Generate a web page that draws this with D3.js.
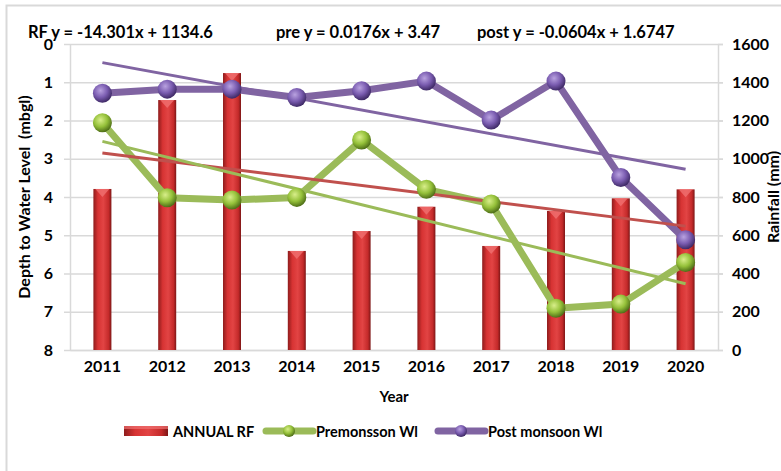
<!DOCTYPE html>
<html>
<head>
<meta charset="utf-8">
<script src="https://d3js.org/d3.v7.min.js"></script>
<style>
body { margin: 0; background: #fff; }
text { font-family: Lato, "Liberation Sans", Arial, sans-serif; font-weight: bold; fill: #000; white-space: pre; }
</style>
</head>
<body>
<svg width="781" height="471"></svg>
<script>
// values
var years = ["2011","2012","2013","2014","2015","2016","2017","2018","2019","2020"];
var annualRF = [842, 1307, 1448, 518, 622, 749, 544, 727, 793, 840];
var preWL = [2.06, 4.02, 4.08, 4.01, 2.51, 3.80, 4.18, 6.91, 6.80, 5.71];
var postWL = [1.29, 1.18, 1.18, 1.40, 1.22, 0.97, 1.99, 0.97, 3.49, 5.12];
var leftTicks = [0,1,2,3,4,5,6,7,8];
var rightTicks = [0,200,400,600,800,1000,1200,1400,1600];
var equations = ["RF y = -14.301x + 1134.6", "pre y = 0.0176x + 3.47", "post y = -0.0604x + 1.6747"];
var legendNames = ["ANNUAL RF", "Premonsson Wl", "Post monsoon Wl"];

var svg = d3.select("svg");
var pL = 70, pR = 718, pT = 44, pB = 350;

var x = d3.scaleBand().domain(years).range([pL, pR]);
var yl = d3.scaleLinear().domain([0, 8]).range([pT, pB]);
var yr = d3.scaleLinear().domain([0, 1600]).range([pB, pT]);

// outer border of chart area
svg.append("rect").attr("x", 6.5).attr("y", 5.5).attr("width", 800).attr("height", 500)
  .attr("fill", "none").attr("stroke", "#d9d9d9").attr("stroke-width", 2);

var defs = svg.append("defs");
var bg = defs.append("linearGradient").attr("id", "barg").attr("x1", 0).attr("x2", 1).attr("y1", 0).attr("y2", 0);
bg.append("stop").attr("offset", "0%").attr("stop-color", "#8e1c1c");
bg.append("stop").attr("offset", "25%").attr("stop-color", "#d73333");
bg.append("stop").attr("offset", "55%").attr("stop-color", "#e24444");
bg.append("stop").attr("offset", "85%").attr("stop-color", "#c42a2a");
bg.append("stop").attr("offset", "100%").attr("stop-color", "#7d1616");

function ballGrad(id, light, mid, dark) {
  var g = defs.append("radialGradient").attr("id", id).attr("cx", "40%").attr("cy", "35%").attr("r", "65%");
  g.append("stop").attr("offset", "0%").attr("stop-color", light);
  g.append("stop").attr("offset", "55%").attr("stop-color", mid);
  g.append("stop").attr("offset", "100%").attr("stop-color", dark);
}
ballGrad("gball", "#d8ee8a", "#95c13a", "#4f6f18");
ballGrad("pball", "#b9a2e0", "#7a5cb0", "#3f2a66");

function tickFont(g) {
  g.selectAll(".tick text").style("font-size", "16px").style("font-family", "Lato, sans-serif").style("font-weight", "bold");
}

// gridlines + left axis
svg.append("g").attr("transform", "translate(" + pL + ",0)")
  .call(d3.axisLeft(yl).tickValues(leftTicks).tickSize(-(pR - pL) - 5).tickSizeOuter(0).tickPadding(10))
  .call(function(g) {
    g.select(".domain").attr("stroke", "#d9d9d9").attr("stroke-width", 1.5);
    g.selectAll(".tick line").attr("stroke", "#d9d9d9").attr("stroke-width", 1.5).attr("x1", -6);
    g.selectAll(".tick text").attr("x", -17);
    tickFont(g);
  });

// right axis
svg.append("g").attr("transform", "translate(" + pR + ",0)")
  .call(d3.axisRight(yr).tickValues(rightTicks).tickFormat(d3.format("d")).tickSize(5).tickSizeOuter(0).tickPadding(9))
  .call(function(g) {
    g.select(".domain").attr("stroke", "#d9d9d9").attr("stroke-width", 1.5);
    g.selectAll(".tick line").attr("stroke", "#d9d9d9").attr("stroke-width", 1.5);
    tickFont(g);
  });

// bottom axis
svg.append("g").attr("transform", "translate(0," + pB + ")")
  .call(d3.axisBottom(x).tickSize(0).tickPadding(11))
  .call(function(g) {
    g.select(".domain").attr("stroke", "#d9d9d9").attr("stroke-width", 1.5);
    tickFont(g);
  });

// bars
var bw = 18;
var bars = svg.append("g");
bars.selectAll("rect").data(annualRF).enter().append("rect")
  .attr("x", function(d, i) { return x(years[i]) + x.bandwidth() / 2 - bw / 2; })
  .attr("y", function(d) { return yr(d); })
  .attr("width", bw)
  .attr("height", function(d) { return pB - yr(d); })
  .attr("fill", "url(#barg)");
bars.selectAll("path").data(annualRF).enter().append("path")
  .attr("d", function(d, i) {
    var cx = x(years[i]) + x.bandwidth() / 2, ty = yr(d);
    return "M" + (cx - bw / 2 + 2) + "," + ty + "L" + (cx + bw / 2 - 2) + "," + ty + "L" + cx + "," + (ty + 8) + "Z";
  })
  .attr("fill", "#f07070").attr("opacity", 0.8);

function cxOf(i) { return x(years[i]) + x.bandwidth() / 2; }

// least squares trend, like the spreadsheet draws it
function trend(vals) {
  var n = vals.length, mx = (n + 1) / 2, my = d3.mean(vals);
  var sxy = d3.sum(vals, function(v, i) { return (i + 1 - mx) * (v - my); });
  var sxx = d3.sum(vals, function(v, i) { return (i + 1 - mx) * (i + 1 - mx); });
  var b = sxy / sxx, a = my - b * mx;
  return [[0, a + b], [n - 1, a + b * n]];
}

var line = d3.line().x(function(d) { return cxOf(d[0]); });

// data lines
svg.append("path").datum(preWL.map(function(v, i) { return [i, v]; }))
  .attr("d", line.y(function(d) { return yl(d[1]); }))
  .attr("fill", "none").attr("stroke", "#9bbb59").attr("stroke-width", 7).attr("stroke-linejoin", "round");
svg.append("path").datum(postWL.map(function(v, i) { return [i, v]; }))
  .attr("d", line.y(function(d) { return yl(d[1]); }))
  .attr("fill", "none").attr("stroke", "#8064a2").attr("stroke-width", 7).attr("stroke-linejoin", "round");

// trend lines
svg.append("path").datum(trend(annualRF))
  .attr("d", line.y(function(d) { return yr(d[1]); }))
  .attr("stroke", "#c0504d").attr("stroke-width", 3).attr("fill", "none");
svg.append("path").datum(trend(preWL))
  .attr("d", line.y(function(d) { return yl(d[1]); }))
  .attr("stroke", "#9bbb59").attr("stroke-width", 3).attr("fill", "none");
svg.append("path").datum(trend(postWL))
  .attr("d", line.y(function(d) { return yl(d[1]); }))
  .attr("stroke", "#8064a2").attr("stroke-width", 3).attr("fill", "none");

// markers
svg.append("g").selectAll("circle").data(preWL).enter().append("circle")
  .attr("cx", function(d, i) { return cxOf(i); }).attr("cy", function(d) { return yl(d); })
  .attr("r", 9.5).attr("fill", "url(#gball)");
svg.append("g").selectAll("circle").data(postWL).enter().append("circle")
  .attr("cx", function(d, i) { return cxOf(i); }).attr("cy", function(d) { return yl(d); })
  .attr("r", 9.5).attr("fill", "url(#pball)");

// equation labels
var eqX = [28, 276, 477];
svg.selectAll(".eq").data(equations).enter().append("text").attr("class", "eq")
  .attr("x", function(d, i) { return eqX[i]; }).attr("y", 38)
  .style("font-size", "16.5px").text(function(d) { return d; });

// axis titles
svg.append("text").attr("transform", "translate(30," + ((pT + pB) / 2) + ") rotate(-90)")
  .attr("text-anchor", "middle").style("font-size", "16px").text("Depth to Water Level  (mbgl)");
svg.append("text").attr("transform", "translate(779," + ((pT + pB) / 2) + ") rotate(-90)")
  .attr("text-anchor", "middle").style("font-size", "16px").text("Rainfall (mm)");
svg.append("text").attr("x", (pL + pR) / 2).attr("y", 402).attr("text-anchor", "middle")
  .style("font-size", "15px").text("Year");

// legend
var lg = svg.append("g");
lg.append("rect").attr("x", 124).attr("y", 426).attr("width", 44).attr("height", 10).attr("fill", "url(#barg)");
lg.append("rect").attr("x", 124).attr("y", 426).attr("width", 44).attr("height", 3).attr("fill", "#f07070").attr("opacity", 0.7);
var lineLeg = [[266, "#9bbb59", "url(#gball)"], [438, "#8064a2", "url(#pball)"]];
lineLeg.forEach(function(l) {
  lg.append("line").attr("x1", l[0]).attr("x2", l[0] + 47).attr("y1", 431).attr("y2", 431)
    .attr("stroke", l[1]).attr("stroke-width", 7).attr("stroke-linecap", "round");
  lg.append("circle").attr("cx", l[0] + 23).attr("cy", 431).attr("r", 6).attr("fill", l[2]);
});
var legX = [173, 316, 488];
lg.selectAll("text").data(legendNames).enter().append("text")
  .attr("x", function(d, i) { return legX[i]; }).attr("y", 436.5)
  .style("font-size", "14.5px").text(function(d) { return d; });
</script>
</body>
</html>
